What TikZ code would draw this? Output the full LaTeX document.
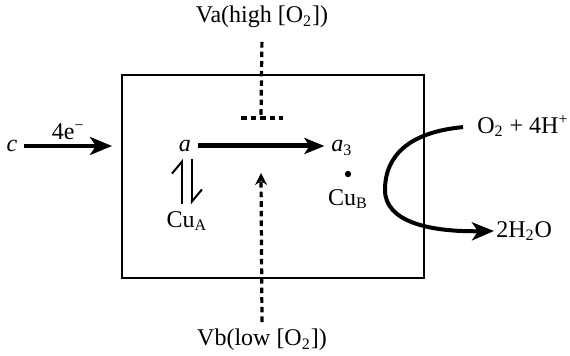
\documentclass[tikz,border=0pt]{standalone}
\usepackage{fontspec}
\setmainfont{Liberation Serif}
\usetikzlibrary{arrows.meta, positioning, calc}

\begin{document}
\begin{tikzpicture}[
    x=0.5pt, y=-0.5pt,
    font=\fontsize{12}{14}\selectfont,
    flow/.style={-{Stealth[length=11pt, width=9pt, inset=3pt]}, line width=2pt},
    mainflow/.style={-{Stealth[length=10pt, width=8pt, inset=2.5pt]}, line width=2.5pt},
    effector/.style={line width=1.6pt, dash pattern=on 2.8pt off 2pt},
    harpoon/.style={-{Straight Barb[left, length=6pt, width=10pt]}, line width=1pt},
    species/.style={inner sep=1pt}
]
    \useasboundingbox (0,0) rectangle (570,356);

    % Nodes
    \node[draw, line width=1.1pt, minimum width=151pt, minimum height=101.5pt] (box) at (273,176.5) {};
    \node (c) at (12,146) {\textit{c}};
    \node (a) at (185,146) {\textit{a}};
    \node (a3) at (342,148) {\textit{a}\textsubscript{3}};
    \node (cua) at (187,221) {Cu\textsubscript{A}};
    \node (cub) at (348,199) {Cu\textsubscript{B}};
    \node (va) at (262,17) {Va(high [O\textsubscript{2}])};
    \node (vb) at (262,340) {Vb(low [O\textsubscript{2}])};
    \node[species, anchor=west] (o2) at (475,126) {O\textsubscript{2} + 4H\textsuperscript{+}};
    \node[species, anchor=west] (h2o) at (494,231) {2H\textsubscript{2}O};
    \fill (348,174) circle (1.6pt);
    \coordinate (cin) at (112,146);
    \coordinate (block) at (261,118);
    \coordinate (promote) at (261,173);

    % Connections
    \draw[flow] (c.east) -- node[above, yshift=-1pt] {4e\textsuperscript{−}} (cin);
    \draw[mainflow] (a.east) -- (a.east -| a3.west);
    \draw[harpoon] ($(cua.north)+(-5,0)$) -- ($(a.south)+(-3,0)$);
    \draw[harpoon] ($(a.south)+(7,0)$) -- ($(cua.north)+(5,0)$);
    \draw[effector, shorten <=3.5pt] (va.south) -- (block);
    \draw[effector] ($(block)+(-20,0)$) -- ($(block)+(22,0)$);
    \draw[effector, -{Stealth[length=6pt, width=6pt]}] (vb.north) -- (promote);
    \draw[flow, shorten <=6pt] (o2.west) .. controls (410,132) and (385,155) .. (385,190)
        .. controls (385,222) and (430,232) .. (h2o.west);

\end{tikzpicture}
\end{document}
